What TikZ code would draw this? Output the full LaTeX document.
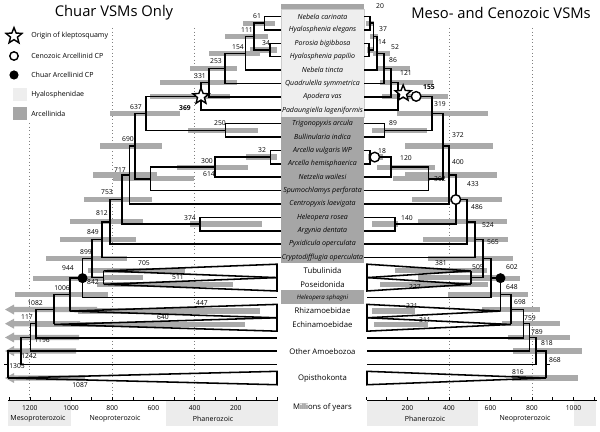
\documentclass[tikz,border=0pt]{standalone}
\usepackage{fontspec}
\setmainfont{Open Sans}
\usetikzlibrary{calc,shapes.geometric}

\definecolor{bargray}{RGB}{170,170,170}
\definecolor{hyalo}{RGB}{238,238,238}
\definecolor{arcel}{RGB}{166,166,166}
\definecolor{eragray}{RGB}{236,236,236}

\newcommand{\cibar}[3]{\fill[bargray] (#1,{#3-2.6}) rectangle (#2,{#3+2.6});}
\newcommand{\ciarrow}[2]{\fill[bargray] (#1,{#2-2.6}) -- (14,{#2-2.6}) -- (14,{#2-5}) -- (5,#2) -- (14,{#2+5}) -- (14,{#2+2.6}) -- (#1,{#2+2.6}) -- cycle;}
\newcommand{\clade}[2]{\draw[br] (#1) -- ($(#2)+(0,-6.7)$) -- ($(#2)+(0,6.7)$) -- cycle;}

\tikzset{
  declare function={xl(\t)=277-0.206*\t; xr(\t)=366+0.2075*\t; yr(\i)=16.5+13.39*\i;},
  br/.style={line width=1.1pt},
  lab/.style={font=\fontsize{4.8}{5}\selectfont, inner sep=0pt},
  labb/.style={font=\fontsize{4.8}{5}\selectfont\bfseries, inner sep=0pt},
  sp/.style={font=\fontsize{5}{5}\selectfont\itshape, inner sep=0pt},
  grp/.style={font=\fontsize{5.5}{6}\selectfont, inner sep=0pt},
  era/.style={font=\fontsize{5}{6}\selectfont, inner sep=0pt},
  legt/.style={font=\fontsize{5}{6}\selectfont, inner sep=0pt, anchor=west},
  ttl/.style={font=\fontsize{10.5}{12}\selectfont, inner sep=0pt},
  dots/.style={gray, dotted, line width=0.5pt},
  klepto/.style={star, star points=5, star point ratio=2.3, draw, fill=white, line width=1pt, minimum size=0.42cm, inner sep=0pt},
  cpopen/.style={circle, draw, fill=white, line width=1pt, minimum size=0.24cm, inner sep=0pt},
  cpfill/.style={circle, fill=black, minimum size=0.25cm, inner sep=0pt},
}

\begin{document}
\begin{tikzpicture}[x=0.025cm, y=-0.025cm]
\useasboundingbox (0,0) rectangle (600,432);

\fill[eragray] (8,401) rectangle ({xl(1000)},426);
\fill[eragray] ({xl(541)},401) rectangle (278,426);
\fill[eragray] (367,401) rectangle ({xr(541)},426);
\fill[eragray] ({xr(1000)},401) rectangle (596,426);

\draw[dots] ({xl(1200)},123) -- ({xl(1200)},400);
\foreach \t in {800,400} {
    \draw[dots] ({xl(\t)},28) -- ({xl(\t)},400);
    \draw[dots] ({xr(\t)},28) -- ({xr(\t)},400);
}

\cibar{243}{275}{23.2}
\cibar{225}{268}{36.6}
\cibar{250}{277}{50}
\cibar{209}{260}{53.35}
\cibar{190}{237}{68.4}
\cibar{160}{237}{82.6}
\cibar{150}{230}{96.4}
\cibar{110}{180}{113.35}
\cibar{188}{258}{130.3}
\cibar{100}{162}{146.1}
\cibar{246}{277}{157.1}
\cibar{177}{248}{167.15}
\cibar{93}{157}{175.05}
\cibar{113}{194}{178.9}
\cibar{84}{152}{199.55}
\cibar{70}{143}{221.8}
\cibar{190}{262}{224.05}
\cibar{60}{136}{239.65}
\cibar{46}{127}{258.6}
\cibar{88}{185}{270.9}
\cibar{33}{105}{278.15}
\cibar{104}{143}{277.6}
\cibar{97}{233}{284.3}
\cibar{15}{108}{294.6}
\cibar{78}{260}{311.1}
\cibar{35}{245}{324.5}
\ciarrow{97}{309.55}
\ciarrow{80}{323.7}
\ciarrow{79}{337.5}
\ciarrow{76}{351.05}
\ciarrow{85}{378}

\cibar{366}{374}{23.2}
\cibar{370}{378}{36.6}
\cibar{367}{373}{50}
\cibar{373}{390}{53.35}
\cibar{377}{410}{68.4}
\cibar{380}{433}{82.6}
\cibar{382}{448}{96.4}
\cibar{397}{488}{113.35}
\cibar{372}{427}{130.3}
\cibar{405}{493}{146.1}
\cibar{368}{383}{157.1}
\cibar{377}{435}{167.15}
\cibar{405}{497}{175.05}
\cibar{393}{430}{178.9}
\cibar{412}{502}{199.55}
\cibar{418}{507}{221.8}
\cibar{372}{398}{224.05}
\cibar{423}{508}{239.65}
\cibar{428}{513}{258.6}
\cibar{395}{487}{270.9}
\cibar{418}{498}{277.6}
\cibar{470}{520}{278.15}
\cibar{380}{488}{284.3}
\cibar{448}{528}{294.6}
\cibar{372}{415}{311.1}
\cibar{482}{540}{309.55}
\cibar{374}{428}{324.5}
\cibar{502}{560}{323.7}
\cibar{508}{570}{337.5}
\cibar{513}{582}{351.05}
\cibar{512}{578}{378}

\fill[arcel] (281,4) rectangle (364,9);
\filldraw[fill=hyalo, draw=gray!40, line width=0.3pt] (281,9) rectangle (364,117);
\fill[arcel] (281,117) rectangle (364,263);
\fill[arcel] (281,290.5) rectangle (364,304.5);

\foreach \i in {0,...,18} {
    \coordinate (tl\i) at (281,{yr(\i)});
    \coordinate (tr\i) at (364,{yr(\i)});
}
\foreach \i in {19,...,27} {
    \coordinate (tl\i) at (277,{yr(\i)});
    \coordinate (tr\i) at (367,{yr(\i)});
}

\foreach \n/\y in {61/23.2, 34/50, 111/36.6, 154/53.35, 253/68.4, 331/82.6, 369/96.4, 250/130.3, 637/113.35, 32/157.1, 300/167.15, 614/178.9, 690/146.1, 717/175.05, 374/224.05, 753/199.55, 812/221.8, 849/239.65, 842/277.6, 899/258.6, 944/278.15, 1006/294.6, 1082/309.55, 1171/323.7, 1196/337.5, 1242/351.05, 1305/364.5} {
    \coordinate (l\n) at ({xl(\n)},\y);
}
\coordinate (lTub) at (l842 |- tl19);
\coordinate (lPos) at (l842 |- tl20);
\coordinate (lRhi) at (l1006 |- tl22);
\coordinate (lEch) at (l1082 |- tl23);
\coordinate (lOpi) at (l1305 |- tl27);

\foreach \n/\y in {20/23.2, 14/50, 37/36.6, 52/53.35, 86/68.4, 121/82.6, 155/96.4, 89/130.3, 319/113.35, 18/157.1, 120/167.15, 302/178.9, 372/146.1, 400/175.05, 140/224.05, 433/199.55, 486/221.8, 524/239.65, 505/277.6, 565/258.6, 602/278.15, 648/294.6, 698/309.55, 759/323.7, 789/337.5, 818/351.05, 868/364.5} {
    \coordinate (r\n) at ({xr(\n)},\y);
}
\coordinate (rTub) at (r505 |- tr19);
\coordinate (rPos) at (r505 |- tr20);
\coordinate (rRhi) at (r648 |- tr22);
\coordinate (rEch) at (r698 |- tr23);
\coordinate (rOpi) at (r868 |- tr27);

\foreach \p/\c in {l61/tl0, l61/tl1, l34/tl2, l34/tl3, l111/l61, l111/l34, l154/l111, l154/tl4, l253/l154, l253/tl5, l331/l253, l331/tl6, l369/l331, l369/tl7, l250/tl8, l250/tl9, l637/l369, l637/l250, l32/tl10, l32/tl11, l300/l32, l300/tl12, l614/l300, l614/tl13, l690/l637, l690/l614, l717/l690, l717/tl14, l374/tl15, l374/tl16, l753/l717, l753/l374, l812/l753, l812/tl17, l849/l812, l849/tl18, l842/lTub, l842/lPos, l899/l849, l899/l842, l944/l899, l944/tl21, l1006/l944, l1006/lRhi, l1082/l1006, l1082/lEch, l1171/l1082, l1171/tl24, l1196/l1171, l1196/tl25, l1242/l1196, l1242/tl26, l1305/l1242, l1305/lOpi} {
    \draw[br] (\p) |- (\c);
}
\draw[br] (l1305) -- ++(-4,0);
\clade{lTub}{tl19}
\clade{lPos}{tl20}
\clade{lRhi}{tl22}
\clade{lEch}{tl23}
\clade{lOpi}{tl27}

\foreach \p/\c in {r20/tr0, r20/tr1, r14/tr2, r14/tr3, r37/r20, r37/r14, r52/r37, r52/tr4, r86/r52, r86/tr5, r121/r86, r121/tr6, r155/r121, r155/tr7, r89/tr8, r89/tr9, r319/r155, r319/r89, r18/tr10, r18/tr11, r120/r18, r120/tr12, r302/r120, r302/tr13, r372/r319, r372/r302, r400/r372, r400/tr14, r140/tr15, r140/tr16, r433/r400, r433/r140, r486/r433, r486/tr17, r524/r486, r524/tr18, r505/rTub, r505/rPos, r565/r524, r565/r505, r602/r565, r602/tr21, r648/r602, r648/rRhi, r698/r648, r698/rEch, r759/r698, r759/tr24, r789/r759, r789/tr25, r818/r789, r818/tr26, r868/r818, r868/rOpi} {
    \draw[br] (\p) |- (\c);
}
\draw[br] (r868) -- ++(4,0);
\clade{rTub}{tr19}
\clade{rPos}{tr20}
\clade{rRhi}{tr22}
\clade{rEch}{tr23}
\clade{rOpi}{tr27}

\node[klepto] (kl) at (l369) {};
\node[cpfill] (cl) at (l944) {};
\node[klepto] (kr) at ($(r155)+(5,-3)$) {};
\node[cpopen] (or1) at ($(r155)+(18,0)$) {};
\node[cpopen] (or2) at ($(r18)+(5,0)$) {};
\node[cpopen] (or3) at (r433) {};
\node[cpfill] (cr) at (r648 |- r602) {};

\foreach \s [count=\i from 0] in {Nebela carinata, Hyalosphenia elegans, Porosia bigibbosa, Hyalosphenia papilio, Nebela tincta, Quadrulella symmetrica, Apodera vas, Padaungiella lageniformis, Trigonopyxis arcula, Bullinularia indica, Arcella vulgaris WP, Arcella hemisphaerica, Netzelia wailesi, Spumochlamys perforata, Centropyxis laevigata, Heleopera rosea, Argynia dentata, Pyxidicula operculata, Cryptodifflugia operculata} {
    \node[sp] (sp\i) at (322.5,{yr(\i)}) {\s};
}
\node[grp] (gTub) at (322.5,{yr(19)}) {Tubulinida};
\node[grp] (gPos) at (322.5,{yr(20)}) {Poseidonida};
\node[sp, font=\fontsize{4.4}{5}\selectfont\itshape] (gHel) at (322.5,{yr(21)}) {Heleopera sphagni};
\node[grp] (gRhi) at (322.5,{yr(22)}) {Rhizamoebidae};
\node[grp] (gEch) at (322.5,{yr(23)}) {Echinamoebidae};
\node[grp] (gOth) at (322.5,{yr(25)}) {Other Amoebozoa};
\node[grp] (gOpi) at (322.5,{yr(27)}) {Opisthokonta};
\node[grp] (gMyr) at (322.5,407) {Millions of years};

\foreach \v/\x/\y in {61/257/16, 111/247/30, 34/266/43, 154/238/47, 253/216/61, 331/200/76, 637/136/107, 250/220/123, 690/128/139, 32/262/150, 300/207/161, 614/209/174, 717/120/170, 753/107/192, 374/190/218, 812/102/213, 849/93/232, 899/86/252, 944/68/268, 705/144/263, 842/93/282, 511/178/277, 1006/62/288, 447/202/303, 1082/35/303, 640/163/317, 117/27/317, 1196/42/340, 1242/29/356, 1305/17/366, 1087/80/385} {
    \node[lab] (ll\v) at (\x,\y) {\v};
}
\node[labb] (ll369) at (185,108) {369};

\foreach \v/\x/\y in {20/380/6, 37/383/29, 14/382/42, 52/395/47, 86/393/60, 121/406/73, 319/440/104, 89/393/123, 372/458/135, 18/382/151, 120/406/158, 400/458/162, 302/440/179, 433/473/184, 486/477/207, 140/407/218, 524/488/225, 565/493/242, 381/441/263, 505/478/267, 602/512/267, 227/415/287, 648/512/287, 221/412/306, 698/520/302, 311/425/320, 759/530/318, 789/537/332, 818/547/343, 868/555/360, 816/518/372} {
    \node[lab] (rl\v) at (\x,\y) {\v};
}
\node[labb] (rl155) at (429,87) {155};

\draw[line width=0.4pt] (8,400) -- (278,400);
\foreach \t in {0,100,...,1300} {
    \draw[line width=0.4pt] ({xl(\t)},400) -- ++(0,-3);
}
\foreach \t in {200,400,...,1200} {
    \node[lab] (axl\t) at ({xl(\t)},408) {\t};
}
\draw[line width=0.4pt] (367,400) -- (597,400);
\foreach \t in {0,100,...,1100} {
    \draw[line width=0.4pt] ({xr(\t)},400) -- ++(0,-3);
}
\foreach \t in {200,400,...,1000} {
    \node[lab] (axr\t) at ({xr(\t)},408) {\t};
}
\node[era] (eMeso) at (38,419) {Mesoproterozoic};
\node[era] (eNeoL) at (115,419) {Neoproterozoic};
\node[era] (ePhaL) at (213,419) {Phanerozoic};
\node[era] (ePhaR) at (425,419) {Phanerozoic};
\node[era] (eNeoR) at (525,419) {Neoproterozoic};

\node[ttl] (tLeft) at (114,13) {Chuar VSMs Only};
\node[ttl] (tRight) at (501,13) {Meso- and Cenozoic VSMs};

\node[klepto] (lgStar) at (14,36) {};
\node[legt] (lgStarT) at (31,36) {Origin of kleptosquamy};
\node[cpopen, minimum size=0.21cm] (lgOpen) at (14,56) {};
\node[legt] (lgOpenT) at (31,56) {Cenozoic Arcellinid CP};
\node[cpfill, minimum size=0.23cm] (lgFill) at (14,75) {};
\node[legt] (lgFillT) at (31,75) {Chuar Arcellinid CP};
\fill[hyalo] (13,88) rectangle (27,101);
\node[legt] (lgHyT) at (31,95) {Hyalosphenidae};
\fill[arcel] (13,107) rectangle (27,120);
\node[legt] (lgArT) at (31,114) {Arcellinida};
\end{tikzpicture}
\end{document}
